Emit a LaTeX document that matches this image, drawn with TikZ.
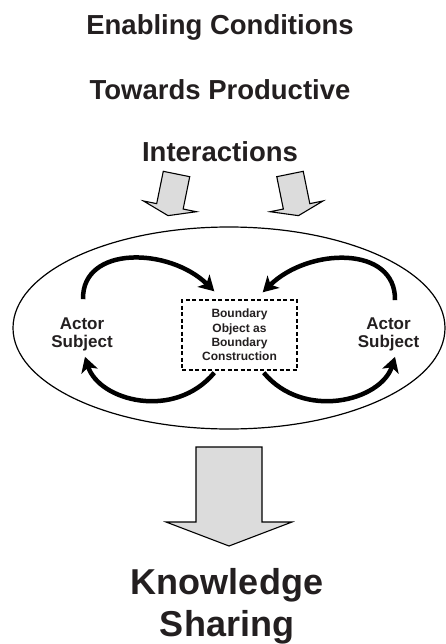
\documentclass[tikz,border=0pt]{standalone}
\usepackage{fontspec}
\setmainfont{Liberation Sans}
\usetikzlibrary{arrows.meta,calc}
\definecolor{ArrowFill}{RGB}{220,220,220}
\definecolor{TextClr}{RGB}{35,31,32}

\begin{document}
\begin{tikzpicture}[x=1pt,y=-1pt,
  title/.style={font=\fontsize{27.5}{30}\selectfont\bfseries,text=TextClr,anchor=base,inner sep=0pt},
  actor/.style={font=\fontsize{17}{18}\selectfont\bfseries,text=TextClr,align=center,inner sep=0pt},
  bobject/.style={draw,line width=1.4pt,dash pattern=on 4pt off 2.5pt,minimum width=115pt,minimum height=70pt,
    font=\fontsize{12}{14.4}\selectfont\bfseries,text=TextClr,align=center,inner sep=0pt},
  loopline/.style={line width=4.5pt,-{Stealth[length=15pt,width=17pt,inset=4pt]}},
  blockarrow/.style={draw=black,line width=1.1pt,fill=ArrowFill,line join=miter}]
\useasboundingbox (0,0) rectangle (446,644);

\node[title] (t1) at (220,35) {Enabling Conditions};
\node[title] (t2) at (220,100) {Towards Productive};
\node[title] (t3) at (220,162) {Interactions};

% small input arrows
\foreach \px/\ang in {176.5/-11.5,290/11.5}{
\begin{scope}[shift={(\px,174)},rotate=\ang]
\draw[blockarrow] (-13.5,0) -- (13.5,0) -- (13.5,33) -- (27,33) -- (0,42.5)
  -- (-27,33) -- (-13.5,33) -- cycle;
\end{scope}
}

\draw[line width=1.2pt] (229,328) ellipse [x radius=216pt,y radius=101pt];

\node[bobject] (bo) at (239.5,335) {Boundary\\Object as\\Boundary\\Construction};
\node[actor] (actL) at (82,334) {Actor\\Subject};
\node[actor] (actR) at (388.5,334) {Actor\\Subject};

\draw[loopline] ($(actL.north)+(1,-18)$) .. controls +(-1,-54) and +(-45,-44) .. ($(bo.north west)+(33,-8)$);
\draw[loopline] ($(actR.north)+(6.5,-17)$) .. controls +(1,-55) and +(46,-45) .. ($(bo.north east)+(-35,-7)$);
\draw[loopline] ($(bo.south west)+(33,2)$) .. controls +(-40,48) and +(14,44) .. ($(actL.south)+(3,6)$);
\draw[loopline] ($(bo.south east)+(-34,2)$) .. controls +(40,48) and +(-14,44) .. ($(actR.south)+(6.5,6)$);

% output arrow
\draw[blockarrow] (196,447) -- (262,447) -- (262,522) -- (292,522) -- (229,546)
  -- (166,522) -- (196,522) -- cycle;

\node[font=\fontsize{36}{42}\selectfont\bfseries,text=TextClr,align=center,inner sep=0pt] (ks) at (227,606) {Knowledge\\Sharing};

\end{tikzpicture}
\end{document}
